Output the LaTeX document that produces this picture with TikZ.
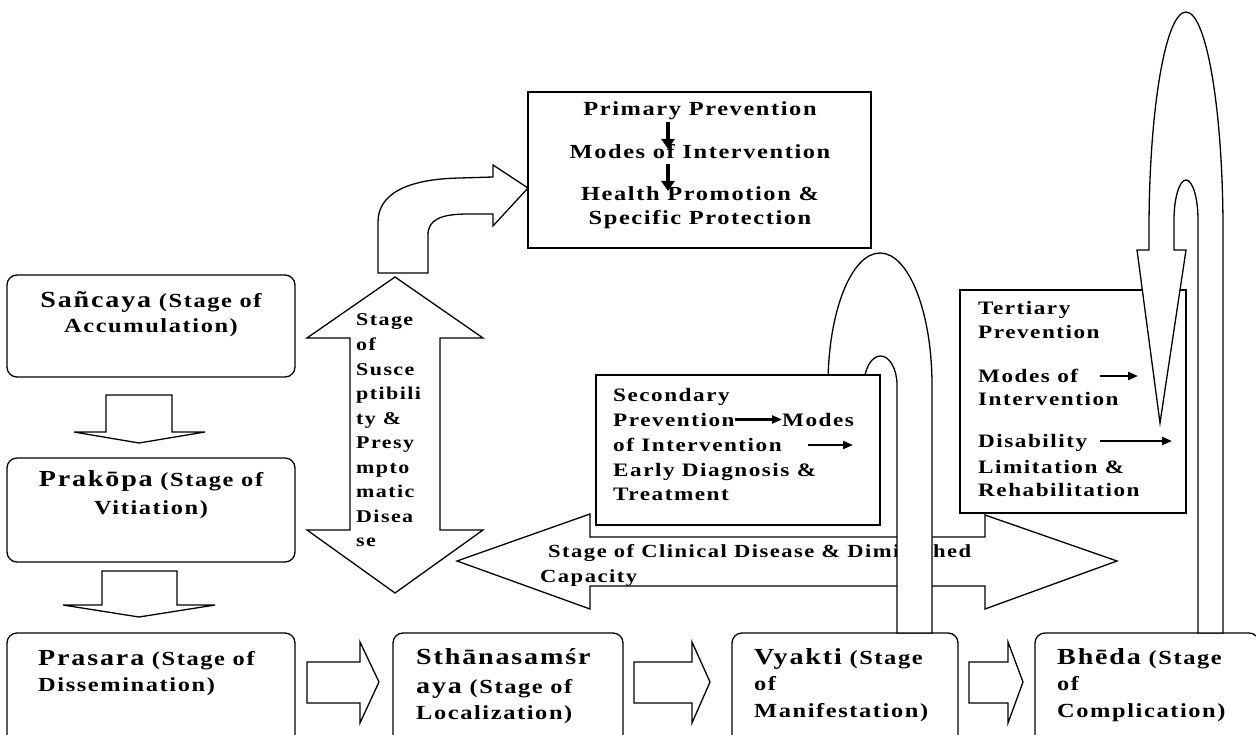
\documentclass[tikz,border=0pt]{standalone}
\usepackage{fontspec}
\setmainfont{Liberation Serif}
\newfontfamily\dfont[FakeStretch=1.22,LetterSpace=8]{Liberation Serif}
\usetikzlibrary{arrows.meta}
\newcommand\bign[1]{{\fontsize{23}{25}\selectfont #1}}
\begin{document}
\begin{tikzpicture}[x=1pt,y=-1pt,
  blk/.style={draw=black, fill=white, line width=1.3pt, line join=miter},
  stagebox/.style={draw=black, fill=white, line width=1.3pt, rounded corners=10pt, inner sep=0pt, outer sep=0pt},
  prevbox/.style={draw=black, fill=white, line width=1.3pt, inner sep=0pt, outer sep=0pt},
  stxt/.style={inner sep=0pt, font=\dfont\bfseries\fontsize{20}{22}\selectfont},
  ptxt/.style={inner sep=0pt, anchor=base west, font=\dfont\bfseries\fontsize{19}{22}\selectfont},
  bigarr/.style={-{Triangle[length=10pt,width=13pt]}, line width=3.5pt},
  smarr/.style={-{Triangle[length=10pt,width=8pt]}, line width=2.2pt}
]
\useasboundingbox (0,0) rectangle (1256,735);
\fill[white] (0,0) rectangle (1256,735);

% stage boxes
\node[stagebox, minimum width=288pt, minimum height=102pt] (sanc) at (151,326) {};
\node[stagebox, minimum width=288pt, minimum height=104pt] (prak) at (151,510) {};
\node[stagebox, minimum width=288pt, minimum height=112pt] (pras) at (151,689) {};
\node[stagebox, minimum width=230pt, minimum height=112pt] (stha) at (508,689) {};
\node[stagebox, minimum width=226pt, minimum height=112pt] (vyak) at (845,689) {};
\node[stagebox, minimum width=224pt, minimum height=112pt] (bhed) at (1147,689) {};

\node[stxt, anchor=base] (sanc1) at (151,308) {\bign{Sañcaya} (Stage of};
\node[stxt, anchor=base] (sanc2) at (151,333) {Accumulation)};
\node[stxt, anchor=base] (prak1) at (151,486) {\bign{Prakōpa} (Stage of};
\node[stxt, anchor=base] (prak2) at (151,514) {Vitiation)};
\node[stxt, anchor=base west] (pras1) at (38,665) {\bign{Prasara} (Stage of};
\node[stxt, anchor=base west] (pras2) at (38,691) {Dissemination)};
\node[stxt, anchor=base west] (stha1) at (416,664) {\bign{Sthānasamśr}};
\node[stxt, anchor=base west] (stha2) at (416,693) {\bign{aya} (Stage of};
\node[stxt, anchor=base west] (stha3) at (416,719) {Localization)};
\node[stxt, anchor=base west] (vyak1) at (754,664) {\bign{Vyakti} (Stage};
\node[stxt, anchor=base west] (vyak2) at (754,690) {of};
\node[stxt, anchor=base west] (vyak3) at (754,717) {Manifestation)};
\node[stxt, anchor=base west] (bhed1) at (1057,664) {\bign{Bhēda} (Stage};
\node[stxt, anchor=base west] (bhed2) at (1057,690) {of};
\node[stxt, anchor=base west] (bhed3) at (1057,717) {Complication)};

% block arrows between stages
\draw[blk] (106,395) -- (172,395) -- (172,432) -- (205,432) -- (139,443) -- (74,432) -- (106,432) -- cycle;
\draw[blk] (102,571) -- (177,571) -- (177,605) -- (215,605) -- (139,617) -- (63,605) -- (102,605) -- cycle;
\draw[blk] (307,662) -- (360,662) -- (360,642) -- (379,682) -- (360,723) -- (360,703) -- (307,703) -- cycle;
\draw[blk] (634,662) -- (692,662) -- (692,642) -- (710,682) -- (692,723) -- (692,703) -- (634,703) -- cycle;
\draw[blk] (969,662) -- (1008,662) -- (1008,642) -- (1023,682) -- (1008,723) -- (1008,703) -- (969,703) -- cycle;

% vertical double arrow
\draw[blk] (395,277) -- (483,338) -- (440,338) -- (440,530) -- (483,530) -- (395,593) -- (307,530) -- (350,530) -- (350,338) -- (307,338) -- cycle;
\foreach \t [count=\i] in {Stage,of,Susce,ptibili,{ty \&},Presy,mpto,matic,Disea,se}
  \node[ptxt, font=\dfont\bfseries\fontsize{18}{22}\selectfont] (vs\i) at (356,301.5+24.5*\i) {\t};

% bent arrow
\draw[blk] (378,273) -- (378,222) .. controls (378,195) and (405,179) .. (460,178) -- (493,177) -- (493,165) -- (528,188) -- (493,226) -- (493,214) -- (468,214) .. controls (440,214) and (428,220) .. (428,235) -- (428,273) -- cycle;

% primary prevention
\node[prevbox, minimum width=343pt, minimum height=156pt] (prim) at (699.5,170) {};
\node[ptxt, anchor=base, font=\dfont\bfseries\fontsize{20}{22}\selectfont] (pp1) at (700,116) {Primary Prevention};
\node[ptxt, anchor=base, font=\dfont\bfseries\fontsize{20}{22}\selectfont] (pp2) at (700,159) {Modes of Intervention};
\node[ptxt, anchor=base, font=\dfont\bfseries\fontsize{20}{22}\selectfont] (pp3) at (700,201) {Health Promotion \&};
\node[ptxt, anchor=base, font=\dfont\bfseries\fontsize{20}{22}\selectfont] (pp4) at (700,225) {Specific Protection};
\coordinate (pa1s) at (668,122); \coordinate (pa1e) at (668,149);
\coordinate (pa2s) at (668,164); \coordinate (pa2e) at (668,191);
\draw[bigarr] (pa1s) -- (pa1e);
\draw[bigarr] (pa2s) -- (pa2e);

% clinical double arrow
\draw[blk] (457,561) -- (590,514) -- (590,537) -- (985,537) -- (985,515) -- (1117,561) -- (985,609) -- (985,586) -- (590,586) -- (590,609) -- cycle;
\node[ptxt, font=\dfont\bfseries\fontsize{18.5}{22}\selectfont] (cl1) at (548,557) {Stage of Clinical Disease \& Diminished};
\node[ptxt, font=\dfont\bfseries\fontsize{18.5}{22}\selectfont] (cl2) at (540,582) {Capacity};

% U-turn arrow into secondary box
\draw[blk] (932,633) -- (932,385) .. controls (932,312.1) and (908.7,253) .. (880,253) .. controls (851.3,253) and (828,312.1) .. (828,385) -- (828,440) -- (816,440) -- (846,500) -- (876,440) -- (864,440) -- (864,385) .. controls (864,369) and (871.4,356) .. (880.5,356) .. controls (889.6,356) and (897,369) .. (897,385) -- (897,633) -- cycle;

% secondary prevention
\node[prevbox, minimum width=284pt, minimum height=150pt] (seco) at (738,450) {};
\node[ptxt] (sec1) at (613,401) {Secondary};
\node[ptxt] (sec2) at (613,426) {Prevention};
\node[ptxt] (sec2b) at (782,426) {Modes};
\node[ptxt] (sec3) at (613,451) {of Intervention};
\node[ptxt] (sec4) at (613,476) {Early Diagnosis \&};
\node[ptxt] (sec5) at (613,500) {Treatment};
\draw[smarr] (sec2.east) -- (sec2b.west);
\coordinate (sa3s) at (808,445); \coordinate (sa3e) at (853,445);
\draw[smarr] (sa3s) -- (sa3e);

% tertiary prevention
\node[prevbox, minimum width=226pt, minimum height=223pt] (tert) at (1073,401.5) {};
\node[ptxt] (ter1) at (978,315) {Tertiary};
\node[ptxt] (ter2) at (978,339) {Prevention};
\node[ptxt] (ter3) at (978,382) {Modes of};
\node[ptxt] (ter4) at (978,405) {Intervention};
\node[ptxt] (ter5) at (978,447) {Disability};
\node[ptxt] (ter6) at (978,473) {Limitation \&};
\node[ptxt] (ter7) at (978,496) {Rehabilitation};
\coordinate (ta1s) at (1100,376); \coordinate (ta1e) at (1138,376);
\coordinate (ta2s) at (1100,441); \coordinate (ta2e) at (1172,441);
\draw[smarr] (ta1s) -- (ta1e);
\draw[smarr] (ta2s) -- (ta2e);

% big U-turn arrow into tertiary box
\draw[blk] (1223,633) -- (1223,230) .. controls (1223,109.6) and (1206.4,12) .. (1186,12) .. controls (1165.6,12) and (1149,109.6) .. (1149,230) -- (1149,250) -- (1137,250) -- (1160,423) -- (1186,250) -- (1174,250) -- (1174,220) .. controls (1174,197.9) and (1179.4,180) .. (1186,180) .. controls (1192.6,180) and (1198,197.9) .. (1198,220) -- (1198,633) -- cycle;
\end{tikzpicture}
\end{document}
